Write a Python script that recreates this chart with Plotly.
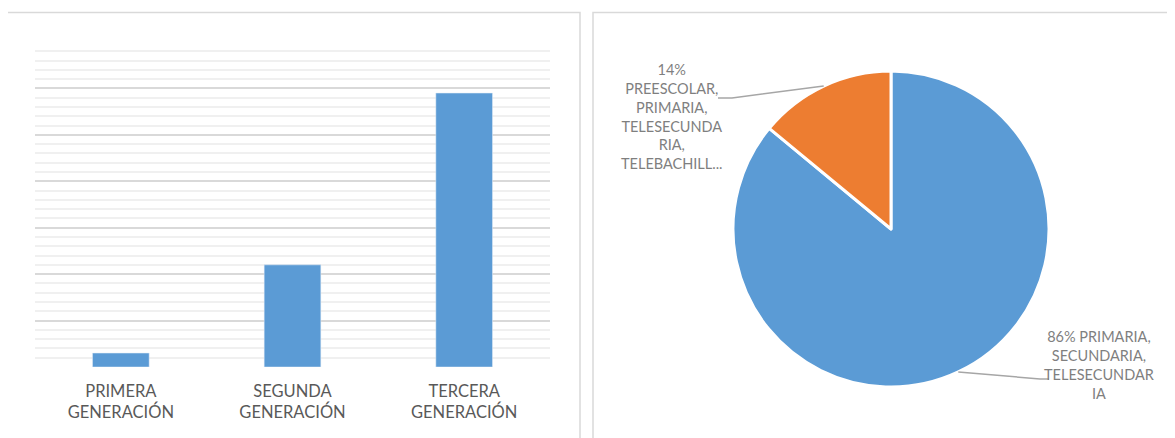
import math
import plotly.graph_objects as go

# ---- data ----
bar_categories = ["PRIMERA<br>GENERACIÓN", "SEGUNDA<br>GENERACIÓN", "TERCERA<br>GENERACIÓN"]
bar_values = [3, 22, 59]

pie_labels = ["PRIMARIA, SECUNDARIA, TELESECUNDARIA",
              "PREESCOLAR, PRIMARIA, TELESECUNDARIA, TELEBACHILLERATO"]
pie_values = [86, 14]
pie_label_text = ["86% PRIMARIA,<br>SECUNDARIA,<br>TELESECUNDAR<br>IA",
                  "14%<br>PREESCOLAR,<br>PRIMARIA,<br>TELESECUNDA<br>RIA,<br>TELEBACHILL..."]
pie_colors = ["#5B9BD5", "#ED7D31"]

# page body has an 8px margin; map reference pixel coords onto the figure
OFF = 8
W, H = 1175 - OFF, 438 - OFF
def px(x):
    return (x - OFF) / W
def py(y):
    return 1 - (y - OFF) / H

fig = go.Figure()

fig.add_trace(go.Bar(
    x=bar_categories, y=bar_values, marker_color="#5B9BD5", width=0.33,
    hoverinfo="x+y"
))

# pie geometry (pixels)
cx, cy, r = 891, 229, 158
fig.add_trace(go.Pie(
    labels=pie_labels, values=pie_values, sort=False, direction="clockwise",
    rotation=0, marker=dict(colors=pie_colors, line=dict(color="white", width=3)),
    textinfo="none", showlegend=False,
    domain=dict(x=[px(cx - r), px(cx + r)], y=[py(cy + r), py(cy - r)])
))

fig.update_layout(
    width=W, height=H, margin=dict(l=0, r=0, t=0, b=0),
    paper_bgcolor="white", plot_bgcolor="white", showlegend=False,
    xaxis=dict(domain=[px(35), px(550)], showline=False, ticks="", showgrid=False,
               ticklabelstandoff=12,
               tickfont=dict(family="Lato", size=16.5, color="#595959")),
    yaxis=dict(domain=[py(367), py(42)], range=[0, 70], dtick=10, showticklabels=False,
               showgrid=True, gridcolor="#d9d9d9", gridwidth=1.5, zeroline=False,
               showline=False, ticks="",
               minor=dict(dtick=2, showgrid=True, gridcolor="#f0f0f0", gridwidth=1.5)),
)

shapes = []
# panel borders
shapes.append(dict(type="rect", xref="paper", yref="paper", x0=px(7), x1=px(580),
                   y0=-0.2, y1=py(12.5), line=dict(color="#d9d9d9", width=1.5)))
shapes.append(dict(type="rect", xref="paper", yref="paper", x0=px(593), x1=1.2,
                   y0=-0.2, y1=py(12.5), line=dict(color="#d9d9d9", width=1.5)))

# leader lines from slice midpoints (clockwise from 12 o'clock)
total = sum(pie_values)
start = 0.0
mids = []
for v in pie_values:
    frac = v / total
    mids.append((start + frac / 2) * 2 * math.pi)
    start += frac
edge = [(cx + r * math.sin(a), cy - r * math.cos(a)) for a in mids]
elbows = [[(1040, 379), (1049, 379)], [(732, 98), (718, 98)]]
for (ex, ey), pts in zip(edge, elbows):
    path = f"M {px(ex)} {py(ey)}"
    for (x, y) in pts:
        path += f" L {px(x)} {py(y)}"
    shapes.append(dict(type="path", xref="paper", yref="paper", path=path,
                       line=dict(color="#a6a6a6", width=1.5)))
fig.update_layout(shapes=shapes)

label_pos = [(1099, 365), (672, 117)]
for txt, (x, y) in zip(pie_label_text, label_pos):
    fig.add_annotation(x=px(x), y=py(y), xref="paper", yref="paper", text=txt,
                       showarrow=False, xanchor="center", yanchor="middle", align="center",
                       font=dict(family="Lato", size=14.5, color="#7f7f7f"))

fig.write_html("out.html")
